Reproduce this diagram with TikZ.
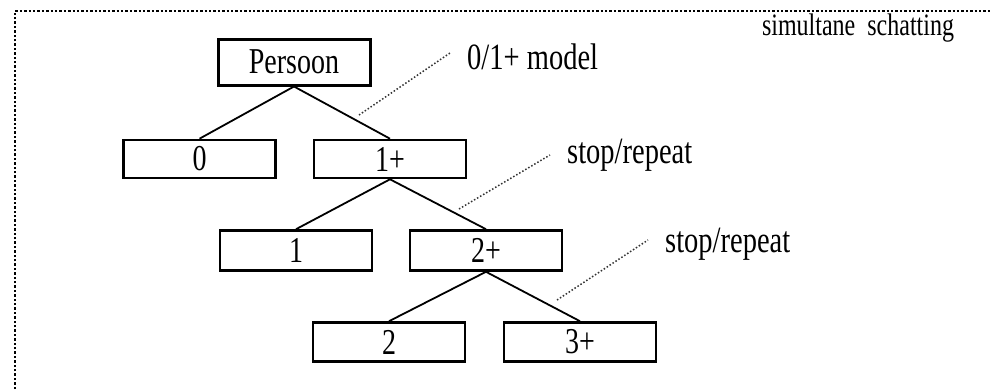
\documentclass[tikz,border=0pt]{standalone}
\usepackage{fontspec}
\setmainfont{Liberation Serif}
\newcommand\tx[1]{\scalebox{1}[1.3]{#1}}
\begin{document}
\begin{tikzpicture}[x=1pt,y=-1pt,
  box/.style={draw, line width=2.6pt, minimum width=152pt, minimum height=38pt, inner sep=0pt, font=\fontsize{28}{30}\selectfont},
  conn/.style={line width=1.8pt},
  leader/.style={line width=1.5pt, dotted, black!80},
  lbl/.style={anchor=west, inner sep=0pt, font=\fontsize{28.5}{30}\selectfont},
  frame/.style={line width=2.4pt, dotted}]
\useasboundingbox (0,0) rectangle (990,389);
\draw[frame] (15,389) -- (15,11) -- (990,11);
\node[box, minimum height=46pt, line width=3pt] (p) at (294,62) {\tx{Persoon}};
\node[box] (n0) at (199.5,159) {\tx{0}};
\node[box] (n1p) at (390,159) {\tx{1+}};
\node[box, minimum height=40pt] (n1) at (296,250.5) {\tx{1}};
\node[box, minimum height=40pt] (n2p) at (486,250.5) {\tx{2+}};
\node[box, minimum height=39pt] (n2) at (389,342) {\tx{2}};
\node[box, minimum height=39pt] (n3p) at (580,342) {\tx{3+}};
\draw[conn] (p.south) -- (n0.north);
\draw[conn] (p.south) -- (n1p.north);
\draw[conn] (n1p.south) -- (n1.north);
\draw[conn] (n1p.south) -- (n2p.north);
\draw[conn] (n2p.south) -- (n2.north);
\draw[conn] (n2p.south) -- (n3p.north);
\node[lbl] (l1) at (467,57) {\tx{0/1+ model}};
\node[lbl] (l2) at (567,155) {\tx{stop/repeat}};
\node[lbl] (l3) at (665,244) {\tx{stop/repeat}};
\node[inner sep=0pt, font=\fontsize{24}{26}\selectfont] (t) at (858,28) {\tx{simultane\ \ schatting}};
\coordinate (a1) at (359,115);
\coordinate (a2) at (459,209);
\coordinate (a3) at (557,300);
\draw[leader] (a1) -- ([xshift=-17pt,yshift=4pt]l1.west);
\draw[leader] (a2) -- ([xshift=-17pt,yshift=0pt]l2.west);
\draw[leader] (a3) -- ([xshift=-17pt,yshift=4pt]l3.west);
\end{tikzpicture}
\end{document}
